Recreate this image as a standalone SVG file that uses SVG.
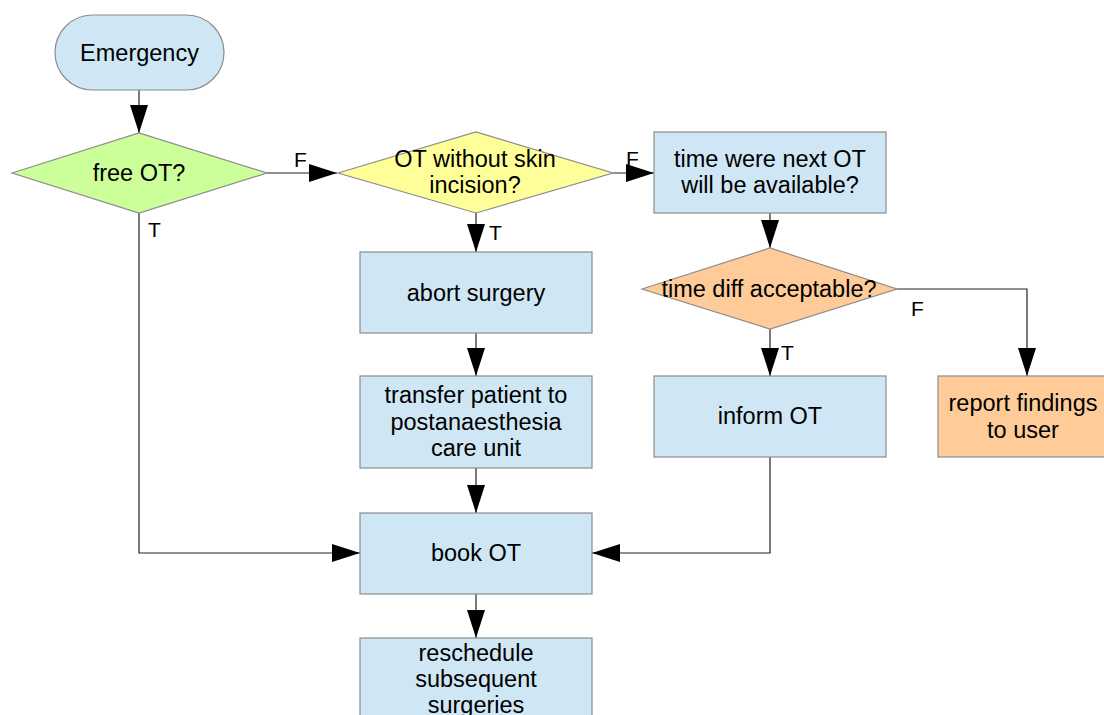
<svg xmlns="http://www.w3.org/2000/svg" width="1104" height="715" viewBox="0 0 1104 715">
<style>
.box{fill:#cfe7f5;stroke:#8c8c8c;stroke-width:1.2}
.t{font-family:"Liberation Sans",Arial,sans-serif;font-size:23.5px;fill:#000;text-anchor:middle}
.l{font-family:"Liberation Sans",Arial,sans-serif;font-size:21px;fill:#000}
.c{fill:none;stroke:#222;stroke-width:1.2}
</style>
<defs>
<marker id="ah" markerUnits="userSpaceOnUse" markerWidth="30" markerHeight="20" refX="28" refY="9" orient="auto" viewBox="0 0 30 18">
<path d="M0,0 L28,9 L0,18 Z" fill="#000"/>
</marker>
</defs>
<rect width="1104" height="715" fill="#fff"/>
<g id="connectors">
<path class="c" d="M139,90 V133" marker-end="url(#ah)"/>
<path class="c" d="M267,173 H337" marker-end="url(#ah)"/>
<path class="c" d="M613,173 H654" marker-end="url(#ah)"/>
<path class="c" d="M770,213 V248" marker-end="url(#ah)"/>
<path class="c" d="M897,289 H1027 V376" marker-end="url(#ah)"/>
<path class="c" d="M770,329 V376" marker-end="url(#ah)"/>
<path class="c" d="M770,457 V553 H592" marker-end="url(#ah)"/>
<path class="c" d="M476,213 V252" marker-end="url(#ah)"/>
<path class="c" d="M476,333 V376" marker-end="url(#ah)"/>
<path class="c" d="M476,468 V513" marker-end="url(#ah)"/>
<path class="c" d="M476,594 V638" marker-end="url(#ah)"/>
<path class="c" d="M139,213 V553 H360" marker-end="url(#ah)"/>
<text class="l" x="294" y="167">F</text>
<text class="l" x="626" y="166">F</text>
<text class="l" x="148" y="237">T</text>
<text class="l" x="489" y="240">T</text>
<text class="l" x="781" y="360">T</text>
<text class="l" x="911" y="316">F</text>
</g>
<g id="emergency">
<rect class="box" x="55" y="15" width="169" height="75" rx="37.5" ry="37.5"/>
<text class="t" x="139.5" y="61">Emergency</text>
</g>
<g id="free-ot">
<polygon points="12,173 139,133 267,173 139,213" fill="#ccff99" stroke="#8c8c8c" stroke-width="1.2"/>
<text class="t" x="139" y="181">free OT?</text>
</g>
<g id="ot-without-skin">
<polygon points="338,173 476,132 613,173 476,213" fill="#ffff99" stroke="#8c8c8c" stroke-width="1.2"/>
<text class="t" x="475" y="167">OT without skin</text>
<text class="t" x="475" y="193">incision?</text>
</g>
<g id="time-next-ot">
<rect class="box" x="654" y="132" width="232" height="81"/>
<text class="t" x="770" y="167">time were next OT</text>
<text class="t" x="770" y="193">will be available?</text>
</g>
<g id="time-diff">
<polygon points="642,289 770,248 897,289 770,329" fill="#ffcc99" stroke="#8c8c8c" stroke-width="1.2"/>
<text class="t" x="769" y="297">time diff acceptable?</text>
</g>
<g id="report">
<rect x="938" y="376" width="178" height="81" fill="#ffcc99" stroke="#8c8c8c" stroke-width="1.2"/>
<text class="t" x="1023" y="411">report findings</text>
<text class="t" x="1023" y="438">to user</text>
</g>
<g id="inform-ot">
<rect class="box" x="654" y="376" width="232" height="81"/>
<text class="t" x="770" y="424">inform OT</text>
</g>
<g id="abort">
<rect class="box" x="360" y="252" width="232" height="81"/>
<text class="t" x="476" y="301">abort surgery</text>
</g>
<g id="transfer">
<rect class="box" x="360" y="376" width="232" height="92"/>
<text class="t" x="476" y="403">transfer patient to</text>
<text class="t" x="476" y="430">postanaesthesia</text>
<text class="t" x="476" y="456">care unit</text>
</g>
<g id="book-ot">
<rect class="box" x="360" y="513" width="232" height="81"/>
<text class="t" x="476" y="561">book OT</text>
</g>
<g id="reschedule">
<rect class="box" x="360" y="638" width="232" height="100"/>
<text class="t" x="476" y="661">reschedule</text>
<text class="t" x="476" y="687">subsequent</text>
<text class="t" x="476" y="713">surgeries</text>
</g>
</svg>
